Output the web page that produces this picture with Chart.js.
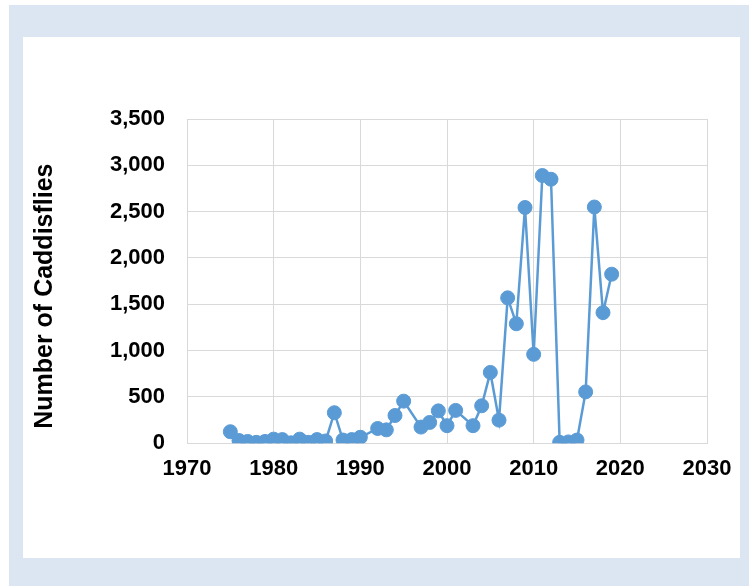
<!DOCTYPE html>
<html><head><meta charset="utf-8">
<script src="https://cdn.jsdelivr.net/npm/chart.js@4"></script>
<style>
html,body{margin:0;padding:0;background:#fff;width:749px;height:586px;overflow:hidden}
#outer{position:absolute;left:9px;top:5px;width:740px;height:581px;background:#dce6f2}
#panel{position:absolute;left:23px;top:37px;width:717px;height:521px;background:#fff}
</style></head><body>
<div id="outer"></div>
<div id="panel"><canvas id="c"></canvas></div>
<script>
const years  = [1975,1976,1977,1978,1979,1980,1981,1982,1983,1984,1985,1986,1987,1988,1989,1990,
                1992,1993,1994,1995,1997,1998,1999,2000,2001,2003,2004,2005,2006,2007,2008,2009,
                2010,2011,2012,2013,2014,2015,2016,2017,2018,2019];
const counts = [125,30,20,10,20,45,40,5,45,10,40,25,330,35,40,65,
                160,145,300,455,175,225,350,190,355,190,405,765,250,1570,1290,2545,
                960,2890,2850,10,15,35,555,2550,1410,1825];
const xTicks = [1970,1980,1990,2000,2010,2020,2030];
const yTicks = [0,500,1000,1500,2000,2500,3000,3500];
const yTitle = 'Number of Caddisflies';

const points = years.map((y,i)=>({x:y,y:counts[i]}));
const FONT = '"Liberation Sans", Arial, sans-serif';

const titlePlugin = {
  id:'yTitle',
  afterDraw(chart){
    const ctx = chart.ctx, a = chart.chartArea;
    ctx.save();
    ctx.translate(29, (a.top + a.bottom)/2 + 15);
    ctx.rotate(-Math.PI/2);
    ctx.font = 'bold 25px ' + FONT;
    ctx.fillStyle = '#000';
    ctx.textAlign = 'center';
    ctx.textBaseline = 'alphabetic';
    ctx.fillText(yTitle, 0, 0);
    ctx.restore();
  }
};

new Chart(document.getElementById('c'), {
  type:'line',
  data:{datasets:[{
    data:points,
    borderColor:'#5b9bd5',
    backgroundColor:'#5b9bd5',
    borderWidth:2.5,
    pointRadius:7,
    pointBorderWidth:1,
    pointHoverRadius:7,
    tension:0
  }]},
  options:{
    responsive:true, maintainAspectRatio:false, animation:false,
    layout:{padding:{top:82,right:33,left:0,bottom:0}},
    plugins:{legend:{display:false},tooltip:{enabled:false}},
    scales:{
      x:{type:'linear',min:1970,max:2030,
        afterBuildTicks:s=>{s.ticks=xTicks.map(v=>({value:v}));},
        afterFit:s=>{s.height=114.7;s.paddingLeft=0;s.paddingRight=0;},
        grid:{color:'#d9d9d9',lineWidth:1,drawTicks:false},
        border:{color:'#d9d9d9'},
        ticks:{padding:12,color:'#000',font:{family:FONT,size:22,weight:'bold'},
          maxRotation:0,callback:v=>String(v)}},
      y:{min:0,max:3500,
        afterBuildTicks:s=>{s.ticks=yTicks.map(v=>({value:v}));},
        afterFit:s=>{s.width=164;},
        grid:{color:'#d9d9d9',lineWidth:1,drawTicks:false},
        border:{color:'#d9d9d9'},
        ticks:{padding:22,color:'#000',font:{family:FONT,size:22,weight:'bold'},
          callback:v=>v.toLocaleString('en-US')}}
    }
  },
  plugins:[titlePlugin]
});
</script>
</body></html>
